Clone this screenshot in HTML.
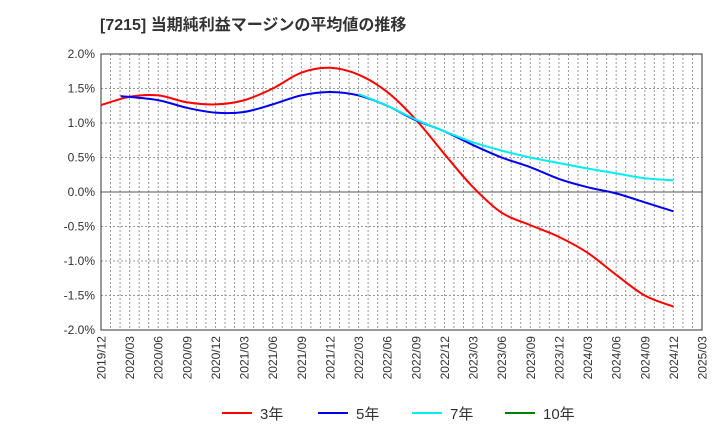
<!DOCTYPE html>
<html><head><meta charset="utf-8"><style>
body{margin:0;background:#fff;font-family:"Liberation Sans","Noto Sans CJK JP",sans-serif;}
</style></head><body>
<svg id="c" width="720" height="440" xmlns="http://www.w3.org/2000/svg" font-family="Liberation Sans, Noto Sans CJK JP, sans-serif">
<text x="100" y="30" font-size="16" font-weight="bold" fill="#333">[7215]  当期純利益マージンの平均値の推移</text>
<g id="grid"></g><g id="axes"></g><g id="series"></g><g id="legend"></g>
</svg>
<script>
const xLabels=["2019/12","2020/03","2020/06","2020/09","2020/12","2021/03","2021/06","2021/09","2021/12","2022/03","2022/06","2022/09","2022/12","2023/03","2023/06","2023/09","2023/12","2024/03","2024/06","2024/09","2024/12","2025/03"];
const yTicks=[2.0,1.5,1.0,0.5,0.0,-0.5,-1.0,-1.5,-2.0];
const red=[1.26,1.38,1.40,1.30,1.27,1.33,1.50,1.73,1.80,1.70,1.45,1.05,0.55,0.07,-0.30,-0.48,-0.65,-0.88,-1.20,-1.50,-1.66];
const redStart=0;
const blue=[1.39,1.33,1.22,1.15,1.16,1.27,1.40,1.45,1.40,1.25,1.04,0.88,0.68,0.50,0.36,0.19,0.07,-0.02,-0.15,-0.28];
const blueStart=1;
const cyan=[1.42,1.25,1.05,0.88,0.72,0.60,0.50,0.42,0.34,0.27,0.20,0.17];
const cyanStart=9;
const L=101,R=702,T=54,B=330;
const X=i=>L+i*(R-L)/(xLabels.length-1);
const Y=v=>T+(2-v)/4*(B-T);
const NS="http://www.w3.org/2000/svg";
function mk(t,a,p){const e=document.createElementNS(NS,t);for(const k in a)e.setAttribute(k,a[k]);p.appendChild(e);return e;}
const g=document.getElementById('grid'),ax=document.getElementById('axes'),s=document.getElementById('series'),lg=document.getElementById('legend');
for(let m=1;m<(xLabels.length-1)*3;m++){const x=L+m*(R-L)/((xLabels.length-1)*3);
const l=mk('line',{x1:x,x2:x,y1:T,y2:B,stroke:'#999','stroke-dasharray':'2,2','stroke-width':1},g);

}
yTicks.forEach(v=>{const y=Y(v);
const l=mk('line',{x1:L,x2:R,y1:y,y2:y,stroke:v==0?'#555':'#999','stroke-dasharray':v==0?'':'2,2','stroke-width':1},g);


const t=mk('text',{x:L-6,y:y+4,'text-anchor':'end','font-size':12,fill:'#333'},ax);t.textContent=v.toFixed(1)+'%';

});
const fr=mk('rect',{x:L,y:T,width:R-L,height:B-T,fill:'none',stroke:'#333','stroke-width':1},ax);


xLabels.forEach((lab,i)=>{const x=X(i)+4.5;
const t=mk('text',{x:x,y:B+6,'text-anchor':'end','font-size':12,fill:'#333',transform:`rotate(-90 ${x} ${B+6})`},ax);t.textContent=lab;

});
function path(vals,start){const p=vals.map((v,i)=>[X(i+start),Y(v)]);
if(start===blueStart){p[0][0]=X(start)-9;}
let d=`M${p[0][0]},${p[0][1]}`;
for(let i=0;i<p.length-1;i++){const p0=p[i-1]||p[i],p1=p[i],p2=p[i+1],p3=p[i+2]||p2;
d+=` C${p1[0]+(p2[0]-p0[0])/6},${p1[1]+(p2[1]-p0[1])/6} ${p2[0]-(p3[0]-p1[0])/6},${p2[1]-(p3[1]-p1[1])/6} ${p2[0]},${p2[1]}`;}return d;}
[[red,redStart,'#ff0000','series-3y'],[blue,blueStart,'#0000ee','series-5y'],[cyan,cyanStart,'#00eeee','series-7y']].forEach(([v,st,c,n])=>{
const e=mk('path',{d:path(v,st),fill:'none',stroke:c,'stroke-width':2},s);

});
[['3年','#ff0000',222],['5年','#0000ee',318],['7年','#00eeee',412],['10年','#008000',505]].forEach(([t,c,x])=>{
const l=mk('line',{x1:x,x2:x+30,y1:413,y2:413,stroke:c,'stroke-width':2},lg);


const tx=mk('text',{x:x+38,y:419,'font-size':15,fill:'#333'},lg);tx.textContent=t;

});
</script>
</body></html>
